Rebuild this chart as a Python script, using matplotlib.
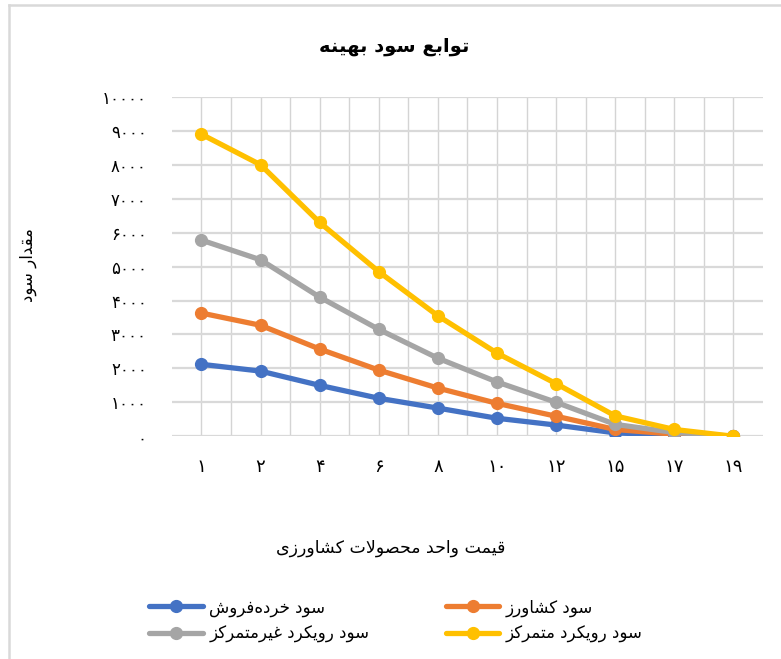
import matplotlib
matplotlib.use("Agg")
import matplotlib.pyplot as plt
from matplotlib.lines import Line2D

# data
prices = [1, 2, 4, 6, 8, 10, 12, 15, 17, 19]
retailer = [2120, 1920, 1500, 1120, 830, 530, 330, 100, 30, 0]
farmer = [3630, 3270, 2570, 1950, 1420, 970, 590, 200, 60, 0]
decentral = [5780, 5200, 4100, 3150, 2300, 1600, 1000, 350, 110, 0]
central = [8900, 8000, 6300, 4850, 3550, 2450, 1550, 600, 200, 0]
y_ticks = list(range(0, 10001, 1000))

title = "توابع سود بهینه"
ylabel = "مقدار سود"
xlabel = "قیمت واحد محصولات کشاورزی"
names = ["سود خرده\u200cفروش", "سود کشاورز", "سود رویکرد غیرمتمرکز", "سود رویکرد متمرکز"]
colors = ["#4472C4", "#ED7D31", "#A5A5A5", "#FFC000"]

# --- tiny Persian shaper (matplotlib has no text shaping) ---
# letter: (isolated, final, initial, medial); None for right-joining only
FORMS = {
    "\u0627": ("\uFE8D", "\uFE8E", None, None),
    "\u0628": ("\uFE8F", "\uFE90", "\uFE91", "\uFE92"),
    "\u062A": ("\uFE95", "\uFE96", "\uFE97", "\uFE98"),
    "\u062D": ("\uFEA1", "\uFEA2", "\uFEA3", "\uFEA4"),
    "\u062E": ("\uFEA5", "\uFEA6", "\uFEA7", "\uFEA8"),
    "\u062F": ("\uFEA9", "\uFEAA", None, None),
    "\u0631": ("\uFEAD", "\uFEAE", None, None),
    "\u0632": ("\uFEAF", "\uFEB0", None, None),
    "\u0633": ("\uFEB1", "\uFEB2", "\uFEB3", "\uFEB4"),
    "\u0634": ("\uFEB5", "\uFEB6", "\uFEB7", "\uFEB8"),
    "\u0635": ("\uFEB9", "\uFEBA", "\uFEBB", "\uFEBC"),
    "\u0639": ("\uFEC9", "\uFECA", "\uFECB", "\uFECC"),
    "\u063A": ("\uFECD", "\uFECE", "\uFECF", "\uFED0"),
    "\u0641": ("\uFED1", "\uFED2", "\uFED3", "\uFED4"),
    "\u0642": ("\uFED5", "\uFED6", "\uFED7", "\uFED8"),
    "\u0644": ("\uFEDD", "\uFEDE", "\uFEDF", "\uFEE0"),
    "\u0645": ("\uFEE1", "\uFEE2", "\uFEE3", "\uFEE4"),
    "\u0646": ("\uFEE5", "\uFEE6", "\uFEE7", "\uFEE8"),
    "\u0647": ("\uFEE9", "\uFEEA", "\uFEEB", "\uFEEC"),
    "\u0648": ("\uFEED", "\uFEEE", None, None),
    "\u06A9": ("\uFB8E", "\uFB8F", "\uFB90", "\uFB91"),
    "\u06CC": ("\uFBFC", "\uFBFD", "\uFBFE", "\uFBFF"),
}


def dual(c):
    return c in FORMS and FORMS[c][2] is not None


def fa(text):
    out = []
    i = 0
    n = len(text)
    while i < n:
        c = text[i]
        if c not in FORMS:
            if c != "\u200c":
                out.append(c)
            i += 1
            continue
        prev = text[i - 1] if i > 0 else ""
        join_prev = dual(prev)
        # lam-alef ligature
        if c == "\u0644" and i + 1 < n and text[i + 1] == "\u0627":
            out.append("\uFEFC" if join_prev else "\uFEFB")
            i += 2
            continue
        nxt = text[i + 1] if i + 1 < n else ""
        join_next = dual(c) and nxt in FORMS
        f = FORMS[c]
        if join_prev and join_next:
            out.append(f[3])
        elif join_prev:
            out.append(f[1])
        elif join_next:
            out.append(f[2])
        else:
            out.append(f[0])
        i += 1
    return "".join(reversed(out))


def fa_digits(v):
    return "".join(chr(0x06F0 + int(d)) for d in str(v))


plt.rcParams["font.family"] = ["DejaVu Sans"]

fig = plt.figure(figsize=(7.81, 6.59), dpi=100)
ax = fig.add_axes([0.220, 0.338, 0.757, 0.515])

x = list(range(len(prices)))
series = [retailer, farmer, decentral, central]
handles = []
for vals, c, name in zip(series, colors, names):
    h, = ax.plot(x, vals, color=c, lw=3.8, marker="o", ms=8.5,
                 solid_capstyle="round", label=fa(name))
    handles.append(h)

ax.set_xlim(-0.5, len(prices) - 0.5)
ax.set_ylim(0, 10000)
ax.set_yticks(y_ticks)
ax.set_yticklabels([fa_digits(v) for v in y_ticks], fontsize=12)
ax.set_xticks(x)
ax.set_xticklabels([fa_digits(p) for p in prices], fontsize=13)
ax.set_xticks([p + 0.5 for p in x[:-1]], minor=True)
ax.tick_params(which="both", length=0)
ax.tick_params(axis="y", pad=18)
ax.tick_params(axis="x", pad=16)
ax.grid(True, which="both", axis="x", color="#d4d4d4", lw=1.0)
ax.grid(True, which="major", axis="y", color="#d9d9d9", lw=1.6)
ax.set_axisbelow(True)
for s in ax.spines.values():
    s.set_visible(False)

fig.text(0.505, 0.930, fa(title), ha="center", va="center", fontsize=14,
         fontweight="bold")
fig.text(0.036, 0.598, fa(ylabel), ha="center", va="center", rotation=90,
         fontsize=12)
fig.text(0.50, 0.168, fa(xlabel), ha="center", va="center", fontsize=12.5)

order = [0, 2, 1, 3]
leg = fig.legend([handles[i] for i in order], [handles[i].get_label() for i in order],
                 ncol=2, loc="center", bbox_to_anchor=(0.507, 0.058), frameon=False,
                 fontsize=12, handlelength=3.2, columnspacing=4.6,
                 labelspacing=0.5, handletextpad=0.4)

# chart frame (only top and left edges are visible in the crop)
fig.add_artist(Line2D([0.011, 0.011], [0.0, 0.992], color="#d9d9d9", lw=1.8,
                      transform=fig.transFigure))
fig.add_artist(Line2D([0.011, 1.0], [0.992, 0.992], color="#d9d9d9", lw=1.8,
                      transform=fig.transFigure))

fig.savefig("out.png", dpi=100)
